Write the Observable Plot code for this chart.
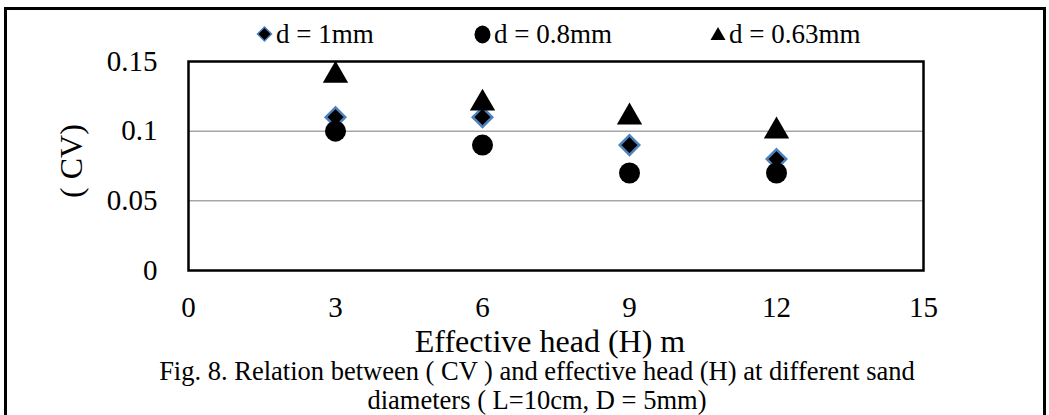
<!DOCTYPE html>
<html>
<head>
<meta charset="utf-8">
<script src="https://cdn.jsdelivr.net/npm/d3@7"></script>
<script src="https://cdn.jsdelivr.net/npm/@observablehq/plot@0.6"></script>
<style>
  html, body { margin: 0; padding: 0; background: #fff; }
  #wrap { position: relative; width: 1049px; height: 415px; overflow: hidden; font-family: "Liberation Serif", "Times New Roman", serif; color: #000; }
  #border { position: absolute; left: 4px; top: 7px; width: 1042px; height: 440px; border: 3px solid #000; box-sizing: border-box; }
  #chart { position: absolute; left: 0; top: 0; }
  .leg { position: absolute; top: 19px; font-size: 27px; line-height: 30px; white-space: nowrap; display: flex; align-items: center; }
  .leg svg { margin-right: 3px; }
  .cap { position: absolute; left: 87px; width: 900px; text-align: center; font-size: 26.5px; line-height: 24px; white-space: nowrap; }
</style>
</head>
<body>
<div id="wrap">
  <div id="border"></div>
  <div id="chart"></div>
  <div id="legend"></div>
  <div id="caption"></div>
</div>
<script>
// ---- data ----
const heads = [3, 6, 9, 12];
const cvD1 = [0.11, 0.11, 0.09, 0.08];
const cvD08 = [0.10, 0.09, 0.07, 0.07];
const cvD063 = [0.14, 0.12, 0.11, 0.10];
const seriesNames = ["d = 1mm", "d = 0.8mm", "d = 0.63mm"];
const xTicks = [0, 3, 6, 9, 12, 15];
const yTicks = [0, 0.05, 0.1, 0.15];
const yTickLabels = ["0", "0.05", "0.1", "0.15"];
const gridValues = [0.05, 0.1];
const xTitle = "Effective head (H) m";
const yTitle = "( CV)";
const captionLines = [
  "Fig. 8. Relation between ( CV ) and effective head (H) at different sand",
  "diameters ( L=10cm, D = 5mm)"
];

const toRows = (vals) => heads.map((h, i) => ({h, v: vals[i]}));

const fontFam = "'Liberation Serif', 'Times New Roman', serif";

const chart = Plot.plot({
  width: 1049,
  height: 360,
  marginLeft: 188,
  marginRight: 126,
  marginTop: 61,
  marginBottom: 90,
  style: {fontFamily: fontFam, fontSize: "29px", color: "#000", background: "transparent", overflow: "visible"},
  x: {domain: [0, 15], ticks: xTicks, tickSize: 0, tickPadding: 26, label: null},
  y: {domain: [0, 0.15], ticks: yTicks, tickSize: 0, tickPadding: 31, label: null,
      tickFormat: (d) => yTickLabels[yTicks.indexOf(d)] ?? String(d)},
  marks: [
    Plot.ruleY(gridValues, {stroke: "#a6a6a6", strokeWidth: 1.5}),
    Plot.frame({stroke: "#000", strokeWidth: 2.5}),
    Plot.dot(toRows(cvD1), {x: "h", y: "v", symbol: "diamond2", r: 8.8, fill: "#000", stroke: "#4f81bd", strokeWidth: 2.5}),
    Plot.dot(toRows(cvD08), {x: "h", y: "v", symbol: "circle", r: 10.5, fill: "#000", stroke: "none"}),
    Plot.dot(toRows(cvD063), {x: "h", y: "v", symbol: "triangle", r: 9.4, fill: "#000", stroke: "none"}),
    Plot.text([xTitle], {frameAnchor: "bottom", text: d => d, dy: 81, dx: -6, lineAnchor: "bottom", textAnchor: "middle", fontSize: 32, fill: "#000"}),
    Plot.text([yTitle], {frameAnchor: "left", text: d => d, dx: -117, dy: -5, rotate: -90, textAnchor: "middle", lineAnchor: "middle", fontSize: 32, fill: "#000"})
  ]
});
document.getElementById("chart").appendChild(chart);

// ---- legend ----
const legend = document.getElementById("legend");
const legendPos = [256, 474, 710];
const legendSymbols = [
  '<svg width="17" height="18" viewBox="-8.5 -9 17 18"><path d="M0,-7L7,0L0,7L-7,0Z" fill="#000" stroke="#4f81bd" stroke-width="1.5"/></svg>',
  '<svg width="17" height="19" viewBox="-8.5 -9.5 17 19"><ellipse rx="8" ry="9" fill="#000"/></svg>',
  '<svg width="16" height="18" viewBox="-8 -9 16 18"><path d="M0,-7L7.5,6L-7.5,6Z" fill="#000"/></svg>'
];
seriesNames.forEach((name, i) => {
  const el = document.createElement("div");
  el.className = "leg";
  el.style.left = legendPos[i] + "px";
  el.innerHTML = legendSymbols[i] + "<span>" + name + "</span>";
  legend.appendChild(el);
});

// ---- caption ----
const capTops = [359, 388];
const cap = document.getElementById("caption");
captionLines.forEach((l, i) => {
  const d = document.createElement("div");
  d.className = "cap";
  d.style.top = capTops[i] + "px";
  d.textContent = l;
  cap.appendChild(d);
});
</script>
</body>
</html>
